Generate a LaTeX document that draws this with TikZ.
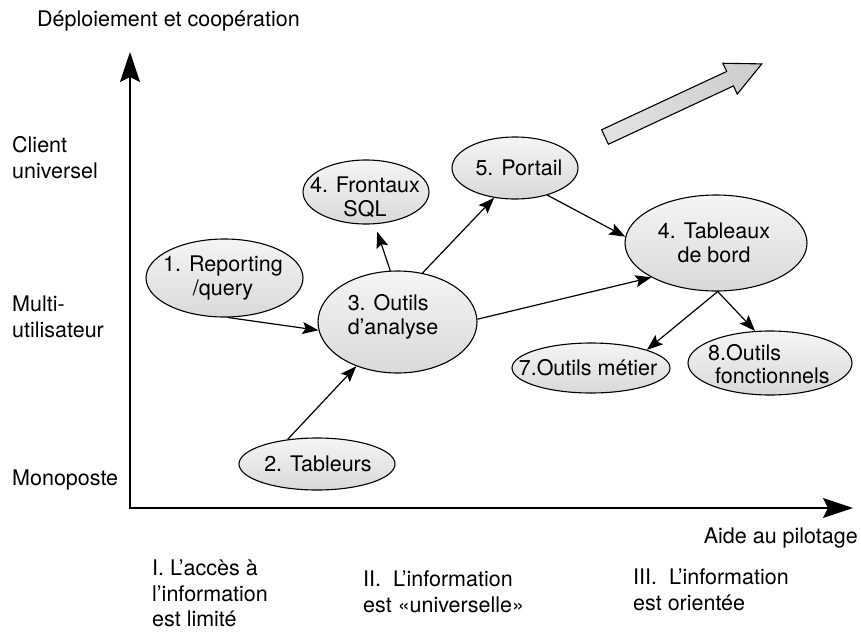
\documentclass[tikz,border=0pt]{standalone}
\usepackage{fontspec}
\setmainfont{TeX Gyre Heros}
\usetikzlibrary{shapes.geometric,arrows.meta}

\begin{document}
\begin{tikzpicture}[x=1pt, y=-1pt,
    bulle/.style={ellipse, draw=black, line width=1.1pt, top color=gray!8, bottom color=gray!30,
                  inner sep=0pt},
    etiq/.style={align=center, font=\fontsize{21.5}{23.5}\selectfont, inner sep=0pt},
    texte/.style={align=left, font=\fontsize{21.5}{26}\selectfont, inner sep=0pt},
    lien/.style={line width=1.2pt, -{Stealth[length=16pt,width=12pt,inset=3pt]}},
    axe/.style={line width=1.5pt, {Stealth[length=30pt,width=20pt,inset=5pt]}-{Stealth[length=30pt,width=20pt,inset=5pt]}}
]
    \useasboundingbox (0,0) rectangle (861,632);

    % axes
    \coordinate (ytip) at (130,52);
    \coordinate (O) at (130,508);
    \coordinate (xtip) at (853,508);
    \draw[axe, line join=miter] (ytip) -- (O) -- (xtip);

    \node[texte, anchor=west] (axey) at (37,21) {Déploiement et coopération};
    \node[texte, anchor=east] (axex) at (858,538) {Aide au pilotage};
    \node[texte, anchor=west] (client) at (12,158) {Client\\universel};
    \node[texte, anchor=west] (multi) at (12,317) {Multi-\\utilisateur};
    \node[texte, anchor=west] (mono) at (12,480) {Monoposte};

    \node[texte, anchor=north west, font=\fontsize{21.5}{25.5}\selectfont] (phase1) at (152,560) {I. L’accès à\\l’information\\est limité};
    \node[texte, anchor=north west] (phase2) at (363,571) {II.~ L’information\\est «universelle»};
    \node[texte, anchor=north west] (phase3) at (633,569) {III.~ L’information\\est orientée};

    % big arrow
    \begin{scope}[shift={(605,137)}, rotate=25]
        \shade[draw=black, line width=1.1pt, left color=gray!22, middle color=gray!8, right color=gray!40]
            (0,-8) -- (138,-8) -- (138,-17) -- (173,0) -- (138,17) -- (138,8) -- (0,8) -- cycle;
    \end{scope}

    % ellipses
    \node[bulle, minimum width=157, minimum height=78] (rep) at (224.5,278) {};
    \node[etiq] (rep-t) at (223,278) {1. Reporting\\/query};

    \node[bulle, minimum width=156, minimum height=52] (tab) at (317,464) {};
    \node[etiq] (tab-t) at (318,464) {2. Tableurs};

    \node[bulle, minimum width=159, minimum height=102] (outils) at (397.5,322) {};
    \node[etiq, align=left] (outils-t) at (393,317) {3. Outils\\d’analyse};

    \node[bulle, minimum width=126, minimum height=64] (front) at (366,192) {};
    \node[etiq] (front-t) at (365,197) {4. Frontaux\\SQL};

    \node[bulle, minimum width=126, minimum height=62] (portail) at (515,168) {};
    \node[etiq] (portail-t) at (519,168) {5. Portail};

    \node[bulle, minimum width=182, minimum height=96] (bord) at (716,243) {};
    \node[etiq] (bord-t) at (714,243) {4. Tableaux\\de bord};

    \node[bulle, minimum width=158, minimum height=50] (metier) at (591,368) {};
    \node[etiq] (metier-t) at (588,368) {7.Outils métier};

    \node[bulle, minimum width=164, minimum height=64] (fonct) at (770,363) {};
    \node[etiq, align=left, anchor=west] (fonct-t) at (708,364) {8.Outils\\\hspace*{7pt}fonctionnels};

    % connectors
    \draw[lien] (rep.-85) -- (outils.186);
    \draw[lien] (tab.140) -- (outils.227);
    \draw[lien, shorten >=8pt] (outils.98) -- (front.-75);
    \draw[lien] (outils.63) -- (portail.235);
    \draw[lien] (outils.2) -- (bord.208);
    \draw[lien] (portail.-40) -- (bord.176);
    \draw[lien] (bord.-88) -- (metier.18);
    \draw[lien] (bord.-88) -- (fonct.115);
\end{tikzpicture}
\end{document}
